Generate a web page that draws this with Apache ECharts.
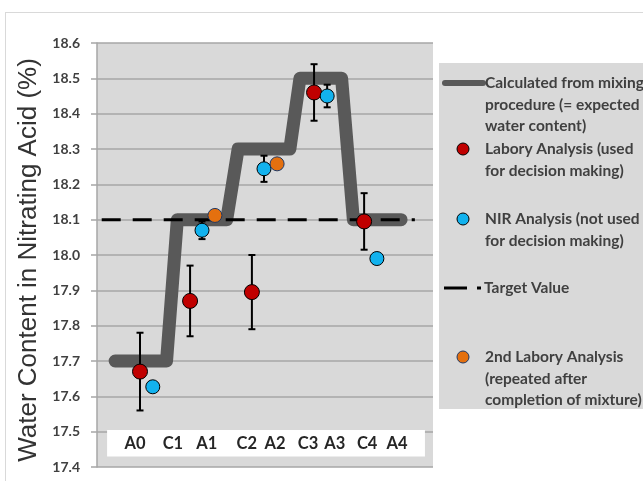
<!DOCTYPE html>
<html>
<head>
<meta charset="utf-8">
<script src="https://cdn.jsdelivr.net/npm/echarts@6/dist/echarts.min.js"></script>
<style>
  html, body { margin: 0; padding: 0; background: #fff; }
  #chart { width: 643px; height: 481px; }
</style>
</head>
<body>
<div id="chart"></div>
<script>
// Sample positions along the run (arbitrary sequence units) and their labels
const tickPos   = [1.13, 2.26, 3.27, 4.46, 5.30, 6.28, 7.08, 8.04, 8.93];
const tickNames = ['A0', 'C1', 'A1', 'C2', 'A2', 'C3', 'A3', 'C4', 'A4'];

// Expected water content from the mixing procedure (stepped profile)
const calcX = [0.54, 2.07, 2.39, 3.86, 4.20, 5.74, 6.04, 7.28, 7.63, 9.05];
const calcY = [17.7, 17.7, 18.1, 18.1, 18.3, 18.3, 18.5, 18.5, 18.1, 18.1];

// Laboratory analysis (with uncertainty)
const laborX   = [1.28, 2.77, 4.61, 6.46, 7.95];
const laborY   = [17.67, 17.87, 17.895, 18.46, 18.095];
const laborErr = [0.11, 0.10, 0.105, 0.08, 0.08];

// NIR analysis (with uncertainty where available)
const nirX   = [1.66, 3.125, 4.97, 6.85, 8.33];
const nirY   = [17.627, 18.07, 18.244, 18.45, 17.99];
const nirErr = [0, 0.025, 0.037, 0.032, 0];

// Repeated laboratory analysis
const secondX = [3.51, 5.36];
const secondY = [18.112, 18.258];

// Target value line
const targetY = 18.1;
const targetX = [0.14, 9.46];

const names = [
  'Calculated from mixing\nprocedure (= expected\nwater content)',
  'Labory Analysis (used\nfor decision making)',
  'NIR Analysis (not used\nfor decision making)',
  'Target Value',
  '2nd Labory Analysis\n(repeated after\ncompletion of mixture)'
];

const C_CALC = '#595959', C_LAB = '#c00000', C_NIR = '#12b2ee', C_2ND = '#e4700f';
const GRID_C = '#a6a6a6';
const LEG_FONT = { fontFamily: 'Lato', fontWeight: 'bold', fontSize: 15.5, fill: '#404040', lineHeight: 21.5 };

const errData = (xs, ys, es) => xs.map((x, i) => [x, ys[i] - es[i], ys[i] + es[i]]).filter((d, i) => es[i] > 0);

function errorBar(params, api) {
  const x = api.value(0);
  const top = api.coord([x, api.value(2)]);
  const bot = api.coord([x, api.value(1)]);
  const hw = 3.5;
  const st = { stroke: '#000', lineWidth: 2 };
  return {
    type: 'group',
    children: [
      { type: 'line', shape: { x1: top[0], y1: top[1], x2: bot[0], y2: bot[1] }, style: st },
      { type: 'line', shape: { x1: top[0] - hw, y1: top[1], x2: top[0] + hw, y2: top[1] }, style: st },
      { type: 'line', shape: { x1: bot[0] - hw, y1: bot[1], x2: bot[0] + hw, y2: bot[1] }, style: st }
    ]
  };
}

const chart = echarts.init(document.getElementById('chart'), null, { renderer: 'canvas' });

const legendItems = [];
// legend panel
legendItems.push({ type: 'rect', shape: { x: 439, y: 63, width: 210, height: 346 }, style: { fill: '#d9d9d9' }, z: 10 });
// thick line sample
legendItems.push({ type: 'line', shape: { x1: 445, y1: 83, x2: 483, y2: 83 }, style: { stroke: C_CALC, lineWidth: 6, lineCap: 'round' }, z: 11 });
legendItems.push({ type: 'text', x: 485, y: 83 - 10.75, style: Object.assign({ text: names[0], verticalAlign: 'top' }, LEG_FONT), z: 11 });
// laboratory dot
legendItems.push({ type: 'circle', shape: { cx: 463, cy: 149, r: 6 }, style: { fill: C_LAB, stroke: '#000', lineWidth: 1 }, z: 11 });
legendItems.push({ type: 'text', x: 485, y: 149 - 10.75, style: Object.assign({ text: names[1], verticalAlign: 'top' }, LEG_FONT), z: 11 });
// NIR dot
legendItems.push({ type: 'circle', shape: { cx: 463, cy: 219, r: 6 }, style: { fill: C_NIR, stroke: '#000', lineWidth: 1 }, z: 11 });
legendItems.push({ type: 'text', x: 485, y: 219 - 10.75, style: Object.assign({ text: names[2], verticalAlign: 'top' }, LEG_FONT), z: 11 });
// target dashed sample
legendItems.push({ type: 'line', shape: { x1: 444, y1: 288, x2: 467, y2: 288 }, style: { stroke: '#000', lineWidth: 3 }, z: 11 });
legendItems.push({ type: 'rect', shape: { x: 477, y: 286.5, width: 4, height: 3 }, style: { fill: '#000' }, z: 11 });
legendItems.push({ type: 'text', x: 484, y: 288 - 10.75, style: Object.assign({ text: names[3], verticalAlign: 'top' }, LEG_FONT), z: 11 });
// repeated lab dot
legendItems.push({ type: 'circle', shape: { cx: 463, cy: 357, r: 6 }, style: { fill: C_2ND, stroke: '#1f3864', lineWidth: 1 }, z: 11 });
legendItems.push({ type: 'text', x: 485, y: 357 - 10.75, style: Object.assign({ text: names[4], verticalAlign: 'top' }, LEG_FONT), z: 11 });
// outer chart frame
legendItems.push({ type: 'line', shape: { x1: 5, y1: 12.5, x2: 643, y2: 12.5 }, style: { stroke: '#d9d9d9', lineWidth: 1 }, z: 1 });
legendItems.push({ type: 'line', shape: { x1: 5.5, y1: 12, x2: 5.5, y2: 481 }, style: { stroke: '#d9d9d9', lineWidth: 1 }, z: 1 });

chart.setOption({
  backgroundColor: '#fff',
  animation: false,
  grid: { left: 97, top: 43, right: 210, bottom: 14, show: true, backgroundColor: '#d9d9d9', borderWidth: 0 },
  xAxis: {
    type: 'value', min: 0, max: 10, z: 5,
    axisLine: { show: false }, axisTick: { show: false }, splitLine: { show: false },
    axisLabel: {
      inside: true, margin: 15,
      customValues: tickPos,
      formatter: v => tickNames[tickPos.indexOf(v)],
      fontFamily: 'Lato', fontWeight: 'bold', fontSize: 16.5, color: '#262626'
    }
  },
  yAxis: {
    type: 'value', min: 17.4, max: 18.6, interval: 0.1,
    name: 'Water Content in Nitrating Acid (%)',
    nameLocation: 'middle', nameGap: 52,
    nameTextStyle: { fontFamily: 'Liberation Sans', fontSize: 26, color: '#333', padding: [0, 10, 0, 0] },
    axisLine: { show: true, lineStyle: { color: GRID_C, width: 1.5 } },
    axisTick: { show: true, length: 6, lineStyle: { color: GRID_C, width: 1.5 } },
    axisLabel: {
      margin: 17, formatter: v => v.toFixed(1),
      fontFamily: 'Lato', fontWeight: 'bold', fontSize: 14, color: '#404040'
    },
    splitLine: { show: true, lineStyle: { color: GRID_C, width: 1.5 } }
  },
  graphic: legendItems,
  series: [
    {
      name: names[0], type: 'line', z: 2,
      data: calcX.map((x, i) => [x, calcY[i]]),
      showSymbol: false, symbol: 'none',
      lineStyle: { color: C_CALC, width: 13, cap: 'round', join: 'round' },
      markArea: {
        silent: true,
        itemStyle: { color: '#fff' },
        data: [[{ coord: [0.30, 17.43] }, { coord: [9.76, 17.505] }]]
      }
    },
    {
      name: names[3], type: 'line', z: 3,
      data: targetX.map(x => [x, targetY]),
      showSymbol: false, symbol: 'none',
      lineStyle: { color: '#000', width: 3, type: [19, 12] }
    },
    {
      name: 'laborErr', type: 'custom', z: 4,
      renderItem: errorBar, encode: { x: 0, y: [1, 2] },
      data: errData(laborX, laborY, laborErr)
    },
    {
      name: 'nirErr', type: 'custom', z: 4,
      renderItem: errorBar, encode: { x: 0, y: [1, 2] },
      data: errData(nirX, nirY, nirErr)
    },
    {
      name: names[1], type: 'scatter', z: 6, symbolSize: 15,
      data: laborX.map((x, i) => [x, laborY[i]]),
      itemStyle: { color: C_LAB, borderColor: '#000', borderWidth: 1, opacity: 1 }
    },
    {
      name: names[2], type: 'scatter', z: 6, symbolSize: 14,
      data: nirX.map((x, i) => [x, nirY[i]]),
      itemStyle: { color: C_NIR, borderColor: '#000', borderWidth: 1, opacity: 1 }
    },
    {
      name: names[4], type: 'scatter', z: 7, symbolSize: 14,
      data: secondX.map((x, i) => [x, secondY[i]]),
      itemStyle: { color: C_2ND, borderColor: '#1f3864', borderWidth: 1, opacity: 1 }
    }
  ]
});
</script>
</body>
</html>
